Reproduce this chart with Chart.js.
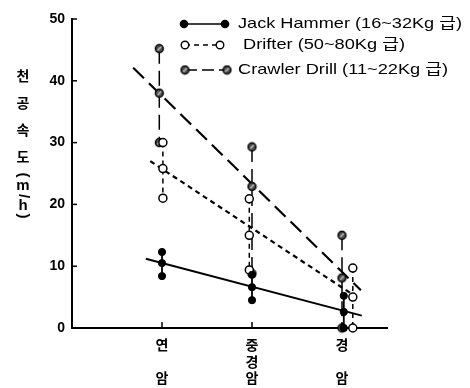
<!DOCTYPE html>
<html>
<head>
<meta charset="utf-8">
<script src="https://cdn.jsdelivr.net/npm/chart.js@4"></script>
<style>
  html, body { margin: 0; background: #fff; }
  #wrap { width: 470px; height: 388px; }
</style>
</head>
<body>
<div id="wrap"><canvas id="chart" width="470" height="388"></canvas></div>
<script>
// rock classes on the x axis (label lines) and their positions
const rockLabels = [['연', '', '암'], ['중', '경', '암'], ['경', '', '암']];
const rockPos = [1, 2, 3];
const yTicks = [0, 10, 20, 30, 40, 50];

// Jack Hammer (max / mean / min per rock class)
const jackX = [1.0, 2.0, 3.02];
const jackMax = [12.3, 8.6, 5.2];
const jackMean = [10.5, 6.6, 2.6];
const jackMin = [8.4, 4.5, 0];

// Drifter
const drifterX = [1.01, 1.97, 3.12];
const drifterMax = [30.0, 20.9, 9.7];
const drifterMean = [25.8, 15.0, 5.0];
const drifterMin = [21.0, 9.4, 0];

// Crawler Drill
const crawlerX = [0.97, 2.0, 3.0];
const crawlerMax = [45.2, 29.3, 15.0];
const crawlerMean = [38.0, 22.9, 8.1];
const crawlerMin = [30.0, 8.8, 0];

// fitted trend lines (end points)
const jackFitX = [0.82, 3.22], jackFitY = [11.2, 2.0];
const drifterFitX = [0.87, 3.12], drifterFitY = [27.0, 5.4];
const crawlerFitX = [0.68, 3.21], crawlerFitY = [42.1, 6.1];

const legendNames = ['Jack Hammer (16~32Kg 급)', 'Drifter (50~80Kg 급)', 'Crawler Drill (11~22Kg 급)'];

const dashJack = [], dashDrifter = [5, 4], dashCrawler = [15, 7];

// hatched circle marker for crawler drill
function hatchedDot() {
  const c = document.createElement('canvas');
  c.width = 11; c.height = 11;
  const g = c.getContext('2d');
  g.beginPath(); g.arc(5.5, 5.5, 3.9, 0, Math.PI * 2);
  g.fillStyle = '#555'; g.fill();
  g.lineWidth = 1.5; g.strokeStyle = '#000'; g.stroke();
  g.beginPath(); g.moveTo(3.6, 7.4); g.lineTo(7.4, 3.6);
  g.lineWidth = 1.1; g.strokeStyle = '#ddd'; g.stroke();
  return c;
}
const hatch = hatchedDot();

// vertical max-mean-min runs, broken between rock classes
function ranges(xs, max, mean, min) {
  const out = [];
  xs.forEach((x, i) => {
    out.push({ x, y: max[i] }, { x, y: mean[i] }, { x, y: min[i] });
    if (i < xs.length - 1) out.push({ x, y: null });
  });
  return out;
}
const fit = (xs, ys) => xs.map((x, i) => ({ x, y: ys[i] }));

const base = { borderColor: '#000', borderWidth: 1.8, showLine: true, clip: false, spanGaps: false, tension: 0 };

const datasets = [
  { ...base, data: ranges(jackX, jackMax, jackMean, jackMin), borderDash: dashJack,
    pointStyle: 'circle', pointRadius: 3.6, pointBackgroundColor: '#000', pointBorderColor: '#000', pointBorderWidth: 1 },
  { ...base, data: ranges(drifterX, drifterMax, drifterMean, drifterMin), borderDash: dashDrifter, borderWidth: 1.5,
    pointStyle: 'circle', pointRadius: 4, pointBackgroundColor: '#fff', pointBorderColor: '#000', pointBorderWidth: 1.5 },
  { ...base, data: ranges(crawlerX, crawlerMax, crawlerMean, crawlerMin), borderDash: dashCrawler, borderWidth: 1.5,
    pointStyle: hatch, pointRadius: 5 },
  { ...base, data: fit(jackFitX, jackFitY), borderDash: dashJack, pointRadius: 0, borderWidth: 2 },
  { ...base, data: fit(drifterFitX, drifterFitY), borderDash: dashDrifter, pointRadius: 0, borderWidth: 2.2 },
  { ...base, data: fit(crawlerFitX, crawlerFitY), borderDash: dashCrawler, pointRadius: 0, borderWidth: 2.2 }
];

// inward tick marks, axis title and the legend box
const decor = {
  id: 'decor',
  afterDraw(chart) {
    const ctx = chart.ctx, xs = chart.scales.x, ys = chart.scales.y;
    const x0 = xs.left, y0 = ys.bottom;
    ctx.save();
    ctx.strokeStyle = '#000'; ctx.lineWidth = 1.5;
    yTicks.forEach(v => {
      const y = ys.getPixelForValue(v);
      ctx.beginPath(); ctx.moveTo(x0, y); ctx.lineTo(x0 + 5, y); ctx.stroke();
    });
    rockPos.forEach(v => {
      const x = xs.getPixelForValue(v);
      ctx.beginPath(); ctx.moveTo(x, y0); ctx.lineTo(x, y0 - 6); ctx.stroke();
    });

    // vertical y title
    ctx.fillStyle = '#000';
    ctx.textAlign = 'center'; ctx.textBaseline = 'middle';
    ctx.font = 'bold 14px "Noto Sans CJK KR"';
    [['천', 76], ['공', 103], ['속', 130], ['도', 157]].forEach(([t, y]) => ctx.fillText(t, 23, y));
    ctx.font = 'bold 15px "Liberation Sans"';
    [['(', 175, true], ['m', 186, false], ['/', 196, true], ['h', 206, false], [')', 216, true]].forEach(([t, y, rot]) => {
      ctx.save(); ctx.translate(23, y);
      if (rot) ctx.rotate(Math.PI / 2);
      ctx.fillText(t, 0, 0); ctx.restore();
    });

    // legend
    const rows = [
      { y: 24, x1: 184, x2: 225, tx: 238, tw: 224, dash: dashJack, kind: 'fill' },
      { y: 45, x1: 185, x2: 220, tx: 243, tw: 162, dash: dashDrifter, kind: 'open' },
      { y: 70, x1: 185, x2: 227, tx: 238, tw: 210, dash: dashCrawler, kind: 'hatch' }
    ];
    rows.forEach((r, i) => {
      ctx.strokeStyle = '#000';
      ctx.setLineDash(r.kind === 'hatch' ? [12, 5] : r.dash);
      ctx.lineWidth = 1.6;
      ctx.beginPath(); ctx.moveTo(r.x1, r.y); ctx.lineTo(r.x2, r.y); ctx.stroke();
      ctx.setLineDash([]);
      [r.x1, r.x2].forEach(x => {
        if (r.kind === 'hatch') { ctx.drawImage(hatch, x - 5.5, r.y - 5.5); return; }
        ctx.beginPath(); ctx.arc(x, r.y, r.kind === 'fill' ? 3.6 : 3.8, 0, Math.PI * 2);
        ctx.fillStyle = r.kind === 'fill' ? '#000' : '#fff'; ctx.fill();
        ctx.lineWidth = 1.4; ctx.stroke();
      });
      ctx.fillStyle = '#000';
      ctx.font = '15px "Liberation Sans", "Noto Sans CJK KR"';
      ctx.textAlign = 'left'; ctx.textBaseline = 'middle';
      const w = ctx.measureText(legendNames[i]).width;
      ctx.save(); ctx.translate(r.tx, r.y); ctx.scale(r.tw / w, 1);
      ctx.fillText(legendNames[i], 0, 0); ctx.restore();
    });
    ctx.restore();
  }
};

new Chart(document.getElementById('chart'), {
  type: 'scatter',
  data: { datasets },
  plugins: [decor],
  options: {
    responsive: false,
    animation: false,
    layout: { padding: { top: 19, right: 83, left: 0, bottom: 0 } },
    plugins: { legend: { display: false }, tooltip: { enabled: false } },
    scales: {
      x: {
        type: 'linear', min: 0, max: 3.5,
        afterBuildTicks: s => { s.ticks = rockPos.map(v => ({ value: v })); },
        afterFit: s => { s.height = 60; },
        ticks: {
          autoSkip: false, maxRotation: 0, padding: 8, color: '#000',
          font: { family: '"Noto Sans CJK KR"', size: 14, weight: 'bold', lineHeight: 1.2 },
          callback: v => rockLabels[rockPos.indexOf(v)]
        },
        grid: { display: true, drawOnChartArea: false, drawTicks: false },
        border: { display: true, color: '#000', width: 2 }
      },
      y: {
        min: 0, max: 50,
        afterBuildTicks: s => { s.ticks = yTicks.map(v => ({ value: v })); },
        afterFit: s => { s.width = 72; },
        ticks: {
          padding: 7, color: '#000',
          font: { family: '"Liberation Sans"', size: 14, weight: 'bold' }
        },
        grid: { display: true, drawOnChartArea: false, drawTicks: false },
        border: { display: true, color: '#000', width: 2 }
      }
    }
  }
});
</script>
</body>
</html>
